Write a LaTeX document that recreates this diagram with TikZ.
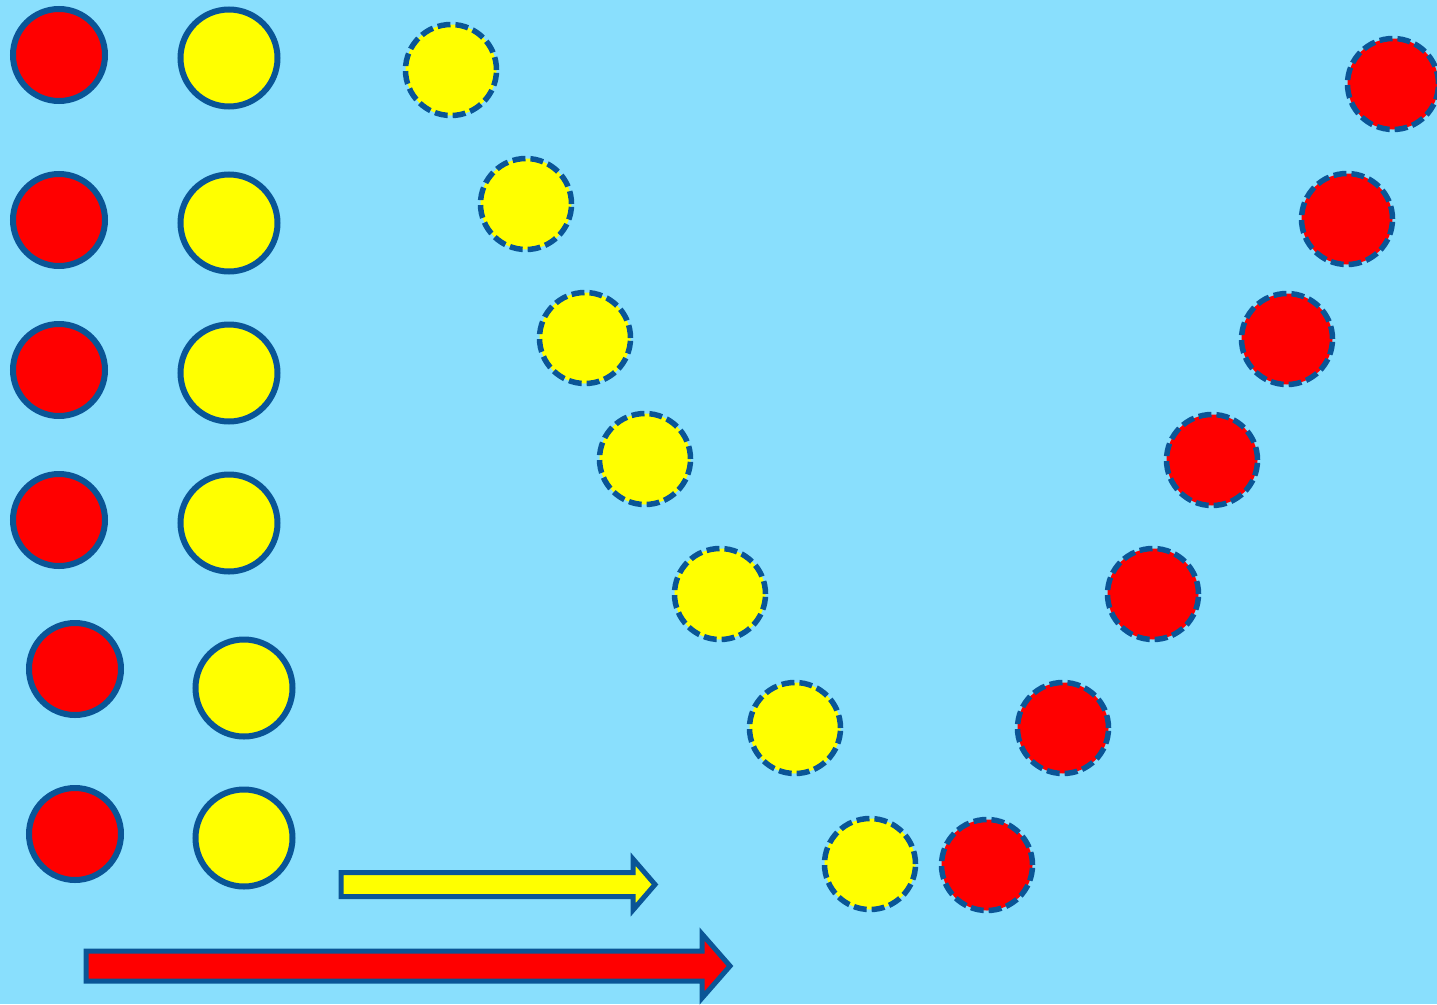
\documentclass[tikz,border=0pt]{standalone}
\definecolor{bg}{RGB}{137,223,253}
\definecolor{rim}{RGB}{10,85,150}
\definecolor{redf}{RGB}{255,0,0}
\definecolor{yelf}{RGB}{255,255,0}
\tikzset{
  ball/.style={circle, inner sep=0pt, minimum size=#1, draw=rim, line width=6pt},
  redball/.style={ball=92pt, fill=redf},
  yelball/.style={ball=97pt, fill=yelf},
  dashball/.style={circle, inner sep=0pt, minimum size=91pt, draw=rim, line width=5.5pt, dash pattern=on 13pt off 5pt},
  dyel/.style={dashball, fill=yelf},
  dred/.style={dashball, fill=redf},
  arrowshape/.style={draw=rim, line width=5pt, line join=miter, miter limit=10}
}
\begin{document}
\begin{tikzpicture}[x=1pt,y=-1pt]
\fill[bg] (0,0) rectangle (1437,1004);
\useasboundingbox (0,0) rectangle (1437,1004);
% left column red
\node[redball] (r1) at (59,55) {};
\node[redball] (r2) at (59,220) {};
\node[redball] (r3) at (59,370) {};
\node[redball] (r4) at (59,520) {};
\node[redball] (r5) at (75,669) {};
\node[redball] (r6) at (75,834) {};
% left column yellow
\node[yelball] (y1) at (229,58) {};
\node[yelball] (y2) at (229,223) {};
\node[yelball] (y3) at (229,373) {};
\node[yelball] (y4) at (229,523) {};
\node[yelball] (y5) at (244,688) {};
\node[yelball] (y6) at (244,838) {};
% dashed yellow diagonal
\node[dyel] (dy1) at (451,70) {};
\node[dyel] (dy2) at (526,204) {};
\node[dyel] (dy3) at (585,338) {};
\node[dyel] (dy4) at (645,459) {};
\node[dyel] (dy5) at (720,594) {};
\node[dyel] (dy6) at (795,728) {};
\node[dyel] (dy7) at (870,864) {};
% dashed red diagonal
\node[dred] (dr1) at (1393,84) {};
\node[dred] (dr2) at (1347,219) {};
\node[dred] (dr3) at (1287,339) {};
\node[dred] (dr4) at (1212,460) {};
\node[dred] (dr5) at (1153,594) {};
\node[dred] (dr6) at (1063,728) {};
\node[dred] (dr7) at (987,865) {};
% yellow arrow
\draw[arrowshape, fill=yelf] (341,872.5) -- (633,872.5) -- (633,859) -- (655,884.5) -- (633,910) -- (633,896.5) -- (341,896.5) -- cycle;
% red arrow
\draw[arrowshape, fill=redf] (86,951) -- (702,951) -- (702,934) -- (730,966) -- (702,998) -- (702,981) -- (86,981) -- cycle;
\end{tikzpicture}
\end{document}
